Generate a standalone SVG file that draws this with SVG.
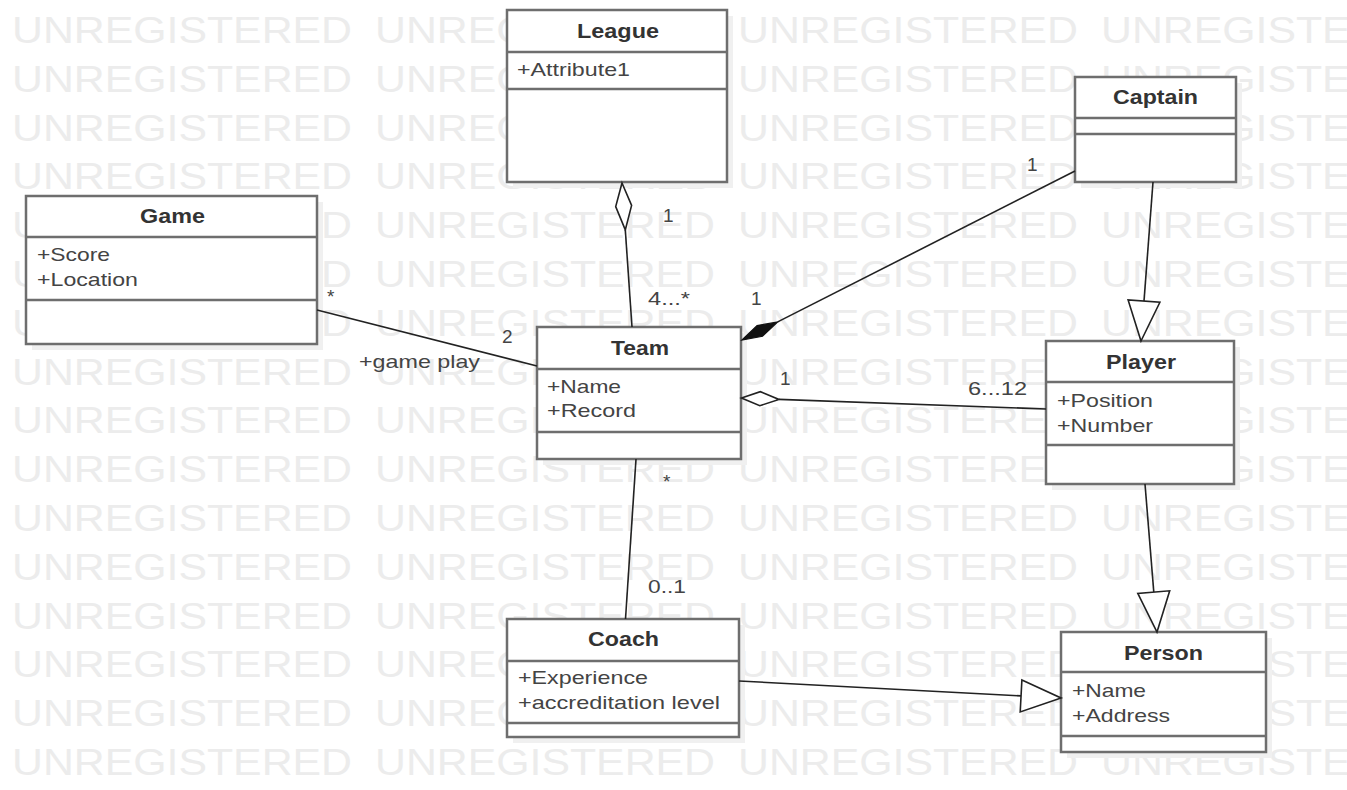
<svg xmlns="http://www.w3.org/2000/svg" xmlns:xlink="http://www.w3.org/1999/xlink" width="1347" height="790" viewBox="0 0 1347 790">
<style>
.wm{font-family:"Liberation Sans",Arial,sans-serif;font-size:37px;fill:#ececec}
.box{fill:#ffffff;stroke:#6e6e6e;stroke-width:2.5}
.sep{stroke:#6e6e6e;stroke-width:2.5}
.shadow{fill:#f0f0f0}
.title{font-family:"Liberation Sans",Arial,sans-serif;font-size:20px;font-weight:bold;fill:#333333}
.attr{font-family:"Liberation Sans",Arial,sans-serif;font-size:19px;fill:#444444}
.lbl{font-family:"Liberation Sans",Arial,sans-serif;font-size:19px;fill:#444444}
.ln{fill:none;stroke:#222222;stroke-width:1.6}
.hollow{fill:#ffffff;stroke:#222222;stroke-width:1.6}
.filled{fill:#111111;stroke:#111111;stroke-width:1.2}
</style>
<defs>
<g id="wmrow">
<text class="wm" x="12" y="0" textLength="340" lengthAdjust="spacingAndGlyphs">UNREGISTERED</text>
<text class="wm" x="375" y="0" textLength="340" lengthAdjust="spacingAndGlyphs">UNREGISTERED</text>
<text class="wm" x="738" y="0" textLength="340" lengthAdjust="spacingAndGlyphs">UNREGISTERED</text>
<text class="wm" x="1101" y="0" textLength="340" lengthAdjust="spacingAndGlyphs">UNREGISTERED</text>
</g>
</defs>
<rect width="1347" height="790" fill="#ffffff"/>
<g id="watermark">
<use xlink:href="#wmrow" y="43"/>
<use xlink:href="#wmrow" y="91.8"/>
<use xlink:href="#wmrow" y="140.6"/>
<use xlink:href="#wmrow" y="189.4"/>
<use xlink:href="#wmrow" y="238.2"/>
<use xlink:href="#wmrow" y="287"/>
<use xlink:href="#wmrow" y="335.8"/>
<use xlink:href="#wmrow" y="384.6"/>
<use xlink:href="#wmrow" y="433.4"/>
<use xlink:href="#wmrow" y="482.2"/>
<use xlink:href="#wmrow" y="531"/>
<use xlink:href="#wmrow" y="579.8"/>
<use xlink:href="#wmrow" y="628.6"/>
<use xlink:href="#wmrow" y="677.4"/>
<use xlink:href="#wmrow" y="726.2"/>
<use xlink:href="#wmrow" y="775"/>
</g>
<g id="League">
<rect class="shadow" x="513" y="16" width="220" height="172"/>
<rect class="box" x="507" y="10" width="220" height="172"/>
<line class="sep" x1="507" y1="52" x2="727" y2="52"/>
<line class="sep" x1="507" y1="89" x2="727" y2="89"/>
<text class="title" x="577" y="38" textLength="82" lengthAdjust="spacingAndGlyphs">League</text>
<text class="attr" x="517" y="76" textLength="113" lengthAdjust="spacingAndGlyphs">+Attribute1</text>
</g>
<g id="Captain">
<rect class="shadow" x="1081" y="83" width="161" height="105"/>
<rect class="box" x="1075" y="77" width="161" height="105"/>
<line class="sep" x1="1075" y1="118" x2="1236" y2="118"/>
<line class="sep" x1="1075" y1="134" x2="1236" y2="134"/>
<text class="title" x="1113" y="104" textLength="85" lengthAdjust="spacingAndGlyphs">Captain</text>
</g>
<g id="Game">
<rect class="shadow" x="32" y="202" width="291" height="148"/>
<rect class="box" x="26" y="196" width="291" height="148"/>
<line class="sep" x1="26" y1="237" x2="317" y2="237"/>
<line class="sep" x1="26" y1="300" x2="317" y2="300"/>
<text class="title" x="140" y="223" textLength="65" lengthAdjust="spacingAndGlyphs">Game</text>
<text class="attr" x="37" y="261" textLength="73" lengthAdjust="spacingAndGlyphs">+Score</text>
<text class="attr" x="37" y="286" textLength="101" lengthAdjust="spacingAndGlyphs">+Location</text>
</g>
<g id="Team">
<rect class="shadow" x="543" y="333" width="204" height="132"/>
<rect class="box" x="537" y="327" width="204" height="132"/>
<line class="sep" x1="537" y1="369" x2="741" y2="369"/>
<line class="sep" x1="537" y1="432" x2="741" y2="432"/>
<text class="title" x="611" y="355" textLength="58" lengthAdjust="spacingAndGlyphs">Team</text>
<text class="attr" x="547" y="393" textLength="74" lengthAdjust="spacingAndGlyphs">+Name</text>
<text class="attr" x="547" y="417" textLength="89" lengthAdjust="spacingAndGlyphs">+Record</text>
</g>
<g id="Player">
<rect class="shadow" x="1052" y="347" width="188" height="143"/>
<rect class="box" x="1046" y="341" width="188" height="143"/>
<line class="sep" x1="1046" y1="382" x2="1234" y2="382"/>
<line class="sep" x1="1046" y1="445" x2="1234" y2="445"/>
<text class="title" x="1106" y="369" textLength="70" lengthAdjust="spacingAndGlyphs">Player</text>
<text class="attr" x="1057" y="407" textLength="96" lengthAdjust="spacingAndGlyphs">+Position</text>
<text class="attr" x="1057" y="432" textLength="96" lengthAdjust="spacingAndGlyphs">+Number</text>
</g>
<g id="Coach">
<rect class="shadow" x="513" y="625" width="232" height="118"/>
<rect class="box" x="507" y="619" width="232" height="118"/>
<line class="sep" x1="507" y1="661" x2="739" y2="661"/>
<line class="sep" x1="507" y1="723" x2="739" y2="723"/>
<text class="title" x="588" y="646" textLength="71" lengthAdjust="spacingAndGlyphs">Coach</text>
<text class="attr" x="518" y="684" textLength="130" lengthAdjust="spacingAndGlyphs">+Experience</text>
<text class="attr" x="518" y="709" textLength="202" lengthAdjust="spacingAndGlyphs">+accreditation level</text>
</g>
<g id="Person">
<rect class="shadow" x="1067" y="638" width="205" height="120"/>
<rect class="box" x="1061" y="632" width="205" height="120"/>
<line class="sep" x1="1061" y1="672" x2="1266" y2="672"/>
<line class="sep" x1="1061" y1="736" x2="1266" y2="736"/>
<text class="title" x="1124" y="660" textLength="79" lengthAdjust="spacingAndGlyphs">Person</text>
<text class="attr" x="1072" y="697" textLength="74" lengthAdjust="spacingAndGlyphs">+Name</text>
<text class="attr" x="1072" y="722" textLength="98" lengthAdjust="spacingAndGlyphs">+Address</text>
</g>
<g id="connectors">
<line class="ln" x1="625.3" y1="229.9" x2="632" y2="327"/>
<polygon class="hollow" points="622,183 631.6,205.4 625.3,229.9 615.7,206.6"/>
<text class="lbl" x="663" y="222">1</text>
<text class="lbl" x="648" y="305" textLength="42" lengthAdjust="spacingAndGlyphs">4...*</text>
<line class="ln" x1="317" y1="310" x2="537" y2="366"/>
<text class="lbl" x="327" y="303">*</text>
<text class="lbl" x="502" y="343">2</text>
<text class="lbl" x="359" y="368" textLength="121" lengthAdjust="spacingAndGlyphs">+game play</text>
<line class="ln" x1="1075" y1="171" x2="777.7" y2="321.9"/>
<polygon class="filled" points="742,340 757.1,325.6 777.7,321.9 762.5,336.3"/>
<text class="lbl" x="1027" y="171">1</text>
<text class="lbl" x="751" y="305">1</text>
<line class="ln" x1="1153" y1="182" x2="1144" y2="301.1"/>
<polygon class="hollow" points="1141,341 1159.9,302.3 1128.1,299.9"/>
<line class="ln" x1="779" y1="399.4" x2="1046" y2="409"/>
<polygon class="hollow" points="741.5,398 760.3,391.7 779,399.4 759.8,405.7"/>
<text class="lbl" x="780" y="385">1</text>
<text class="lbl" x="968" y="395" textLength="59" lengthAdjust="spacingAndGlyphs">6...12</text>
<line class="ln" x1="636" y1="459" x2="625.5" y2="619"/>
<text class="lbl" x="663" y="488">*</text>
<text class="lbl" x="648" y="593" textLength="38" lengthAdjust="spacingAndGlyphs">0..1</text>
<line class="ln" x1="1145" y1="484" x2="1153.8" y2="592.1"/>
<polygon class="hollow" points="1157,632 1169.7,590.8 1137.8,593.4"/>
<line class="ln" x1="739" y1="681" x2="1021" y2="695.9"/>
<polygon class="hollow" points="1061,698 1020.2,711.9 1021.9,679.9"/>
</g>
</svg>
